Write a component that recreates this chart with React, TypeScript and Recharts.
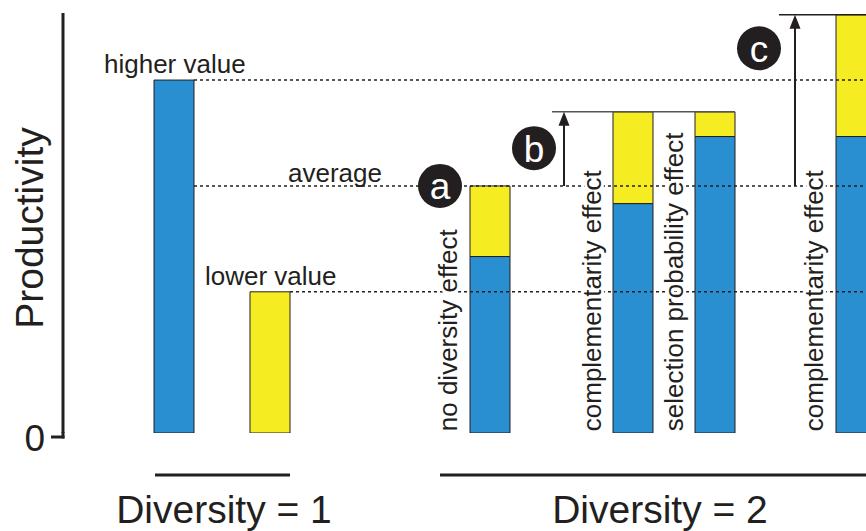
import React from 'react';
import { ComposedChart, Bar, XAxis, YAxis, ReferenceLine, ReferenceDot } from 'recharts';

// --- Chart data ---
const slots = ['higher', 'lower', 'a', 'b', 'selection', 'c'];
const slotX = [111, 207, 427, 570, 652, 793];
const monoValues = [10, 0, 5, 6.5, 8.4, 8.4];      // blue part
const mixValues = [0, 4, 2, 2.6, 0.7, 3.45];       // yellow part

const HIGHER = 10;
const LOWER = 4;
const AVERAGE = (HIGHER + LOWER) / 2;

const effectLabels = ['no diversity effect', 'complementarity effect', 'selection probability effect', 'complementarity effect'];
const effectX = [394, 538, 620, 760];

const levelLabels = ['higher value', 'average', 'lower value'];
const levelLabelX = [41, 225, 142];
const levelLabelY = [10.2, 7.11, 4.19];

const badges = ['a', 'b', 'c'];
const badgeX = [377, 471, 696];
const badgeY = [7, 8.07, 10.9];

const groups = ['Diversity = 1', 'Diversity = 2'];
const groupFrom = [92, 377];
const groupTo = [227, 803];
const groupTextX = [161, 597];

const BLUE = '#2a8fd0';
const YELLOW = '#f6ec22';
const INK = '#231f20';
const FONT = '"Liberation Sans", Arial, Helvetica, sans-serif';

const data = slots.map((s, i) => ({ slot: s, x: slotX[i], mono: monoValues[i], mix: mixValues[i] }));
const totals = data.map(d => d.mono + d.mix);

// --- custom shapes ---
const YTitle = ({ viewBox }: any) => {
  const cx = 29;
  const cy = viewBox.y + viewBox.height / 2 + 5;
  return (
    <text x={cx} y={cy} transform={`rotate(-90 ${cx} ${cy})`} textAnchor="middle" dominantBaseline="central"
      fontSize={39} fontFamily={FONT} fill={INK}>Productivity</text>
  );
};

// zero tick sits a few px below the bar baseline, like the original drawing
const ZeroTick = ({ x, y, payload }: any) => (
  <g>
    <line x1={63} y1={y - 1} x2={63} y2={y + 5.5} stroke={INK} strokeWidth={3} />
    <line x1={x - 1} y1={y + 4} x2={64.5} y2={y + 4} stroke={INK} strokeWidth={3} />
    <text x={x - 7} y={y + 5} textAnchor="end" dominantBaseline="central" fontSize={37} fontFamily={FONT} fill={INK}>{payload.value}</text>
  </g>
);

const badgeShape = (letter: string) => (p: any) => (
  <g>
    <circle cx={p.cx} cy={p.cy} r={22} fill={INK} />
    <text x={p.cx} y={p.cy + 1} textAnchor="middle" dominantBaseline="central" fontSize={37} fontFamily={FONT} fill="#fff">{letter}</text>
  </g>
);

const textShape = (txt: string, size: number, anchor: string, rotate = false, knock = false) => (p: any) => (
  <text x={p.cx} y={p.cy} textAnchor={anchor} fontSize={size} fontFamily={FONT} fill={INK}
    transform={rotate ? `rotate(-90 ${p.cx} ${p.cy})` : undefined}
    stroke={knock ? '#fff' : 'none'} strokeWidth={knock ? 6 : 0} paintOrder="stroke">{txt}</text>
);

const arrowShape = (p: any) => {
  const { x1, y1, x2, y2 } = p;
  return (
    <g>
      <line x1={x1} y1={y1} x2={x2} y2={y2 + 12} stroke={INK} strokeWidth={2} />
      <polygon points={`${x2},${y2} ${x2 - 5.5},${y2 + 14} ${x2 + 5.5},${y2 + 14}`} fill={INK} />
    </g>
  );
};

const App = () => {
  return (
    <div style={{ position: 'absolute', left: 0, top: 0, background: '#fff' }}>
      <ComposedChart width={866} height={531} data={data} margin={{ top: 13, right: 0, bottom: 98, left: 0 }}>
        <XAxis type="number" dataKey="x" domain={[0, 803]} hide allowDataOverflow />
        <YAxis type="number" domain={[0, 11.9]} ticks={[0]} width={63} allowDataOverflow
          axisLine={{ stroke: INK, strokeWidth: 3 }} tickLine={false} tickSize={11} tickMargin={0}
          tick={<ZeroTick />} label={<YTitle />} />

        {/* dotted reference levels */}
        <ReferenceLine segment={[{ x: 131, y: HIGHER }, { x: 803, y: HIGHER }]} stroke={INK} strokeWidth={1.5} strokeDasharray="3 3" />
        <ReferenceLine segment={[{ x: 131, y: AVERAGE }, { x: 803, y: AVERAGE }]} stroke={INK} strokeWidth={1.5} strokeDasharray="3 3" />
        <ReferenceLine segment={[{ x: 227, y: LOWER }, { x: 803, y: LOWER }]} stroke={INK} strokeWidth={1.5} strokeDasharray="3 3" />

        {/* solid top lines for the overyielding mixtures */}
        <ReferenceLine segment={[{ x: 489, y: totals[3] }, { x: 672, y: totals[3] }]} stroke="#555" strokeWidth={1.5} />
        <ReferenceLine segment={[{ x: 716, y: totals[5] }, { x: 803, y: totals[5] }]} stroke={INK} strokeWidth={1.5} />

        <Bar dataKey="mono" stackId="s" fill={BLUE} stroke={INK} strokeWidth={1} barSize={40} isAnimationActive={false} />
        <Bar dataKey="mix" stackId="s" fill={YELLOW} stroke={INK} strokeWidth={1} barSize={40} isAnimationActive={false} />

        {/* arrows */}
        <ReferenceLine segment={[{ x: 501, y: AVERAGE }, { x: 501, y: totals[3] }]} shape={arrowShape} />
        <ReferenceLine segment={[{ x: 732, y: AVERAGE }, { x: 732, y: totals[5] }]} shape={arrowShape} />

        {levelLabels.map((t, i) => (
          <ReferenceDot key={t} x={levelLabelX[i]} y={levelLabelY[i]} r={1} ifOverflow="visible" shape={textShape(t, 26, 'start')} />
        ))}
        {effectLabels.map((t, i) => (
          <ReferenceDot key={'e' + i} x={effectX[i]} y={0.05} r={1} ifOverflow="visible" shape={textShape(t, 26, 'start', true, true)} />
        ))}
        {badges.map((b, i) => (
          <ReferenceDot key={b} x={badgeX[i]} y={badgeY[i]} r={22} ifOverflow="visible" shape={badgeShape(b)} />
        ))}

        {/* group brackets under the axis */}
        {groups.map((g, i) => (
          <ReferenceLine key={g} segment={[{ x: groupFrom[i], y: -1.19 }, { x: groupTo[i], y: -1.19 }]} ifOverflow="visible" stroke={INK} strokeWidth={3} />
        ))}
        {groups.map((g, i) => (
          <ReferenceDot key={'t' + g} x={groupTextX[i]} y={-2.55} r={1} ifOverflow="visible" shape={textShape(g, 39, 'middle')} />
        ))}
      </ComposedChart>
    </div>
  );
};

export default App;
